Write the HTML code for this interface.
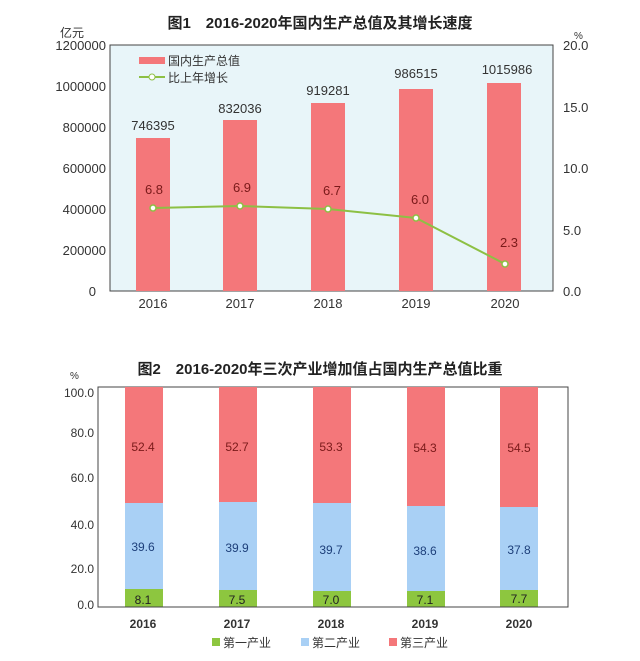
<!DOCTYPE html>
<html><head><meta charset="utf-8"><style>
body{margin:0;background:#fff;width:640px;height:656px;overflow:hidden}
svg text{font-family:"Liberation Sans","Noto Sans CJK SC",sans-serif}
.m{font-family:"Liberation Mono","Noto Sans CJK SC",monospace}
</style></head><body>
<svg width="640" height="656" viewBox="0 0 640 656" xmlns="http://www.w3.org/2000/svg">
<text x="320" y="28" text-anchor="middle" font-size="15" font-weight="bold" fill="#222">图1　2016-2020年国内生产总值及其增长速度</text>
<text x="60" y="37" font-size="12" fill="#333">亿元</text>
<text x="574" y="39" font-size="10" fill="#333">%</text>
<rect x="110" y="45" width="443" height="246" fill="#e8f5f9" stroke="#444" stroke-width="1"/>
<g font-size="13" fill="#333" text-anchor="end">
<text x="106" y="50">1200000</text><text x="106" y="91">1000000</text><text x="106" y="132">800000</text>
<text x="106" y="173">600000</text><text x="106" y="214">400000</text><text x="106" y="255">200000</text><text x="96" y="296">0</text>
</g>
<g font-size="13" fill="#333" class="m">
<text x="563" y="50">20.0</text><text x="563" y="112">15.0</text><text x="563" y="173">10.0</text><text x="563" y="235">5.0</text><text x="563" y="296">0.0</text>
</g>
<g fill="#f4777a">
<rect x="136" y="138" width="34" height="153"/>
<rect x="223" y="120" width="34" height="171"/>
<rect x="311" y="103" width="34" height="188"/>
<rect x="399" y="89" width="34" height="202"/>
<rect x="487" y="83" width="34" height="208"/>
</g>
<g font-size="13" fill="#333" text-anchor="middle">
<text x="153" y="130">746395</text><text x="240" y="113">832036</text><text x="328" y="95">919281</text>
<text x="416" y="78">986515</text><text x="507" y="74">1015986</text>
</g>
<polyline points="153,208 240,206 328,209 416,218 505,264" fill="none" stroke="#8dc044" stroke-width="2"/>
<g fill="#fff" stroke="#8dc044" stroke-width="1.5">
<circle cx="153" cy="208" r="3"/><circle cx="240" cy="206" r="3"/><circle cx="328" cy="209" r="3"/><circle cx="416" cy="218" r="3"/><circle cx="505" cy="264" r="3"/>
</g>
<g font-size="13" fill="#7a1a1a" text-anchor="middle" class="m">
<text x="154" y="194">6.8</text><text x="242" y="192">6.9</text><text x="332" y="195">6.7</text><text x="420" y="204">6.0</text><text x="509" y="247">2.3</text>
</g>
<g font-size="13" fill="#333" text-anchor="middle">
<text x="153" y="308">2016</text><text x="240" y="308">2017</text><text x="328" y="308">2018</text><text x="416" y="308">2019</text><text x="505" y="308">2020</text>
</g>
<rect x="139" y="57" width="26" height="7" fill="#f4777a"/>
<text x="168" y="65" font-size="12" fill="#333">国内生产总值</text>
<line x1="139" y1="77" x2="165" y2="77" stroke="#8dc044" stroke-width="2"/>
<circle cx="152" cy="77" r="3" fill="#fff" stroke="#8dc044"/>
<text x="168" y="82" font-size="12" fill="#333">比上年增长</text>

<text x="320" y="374" text-anchor="middle" font-size="15" font-weight="bold" fill="#222">图2　2016-2020年三次产业增加值占国内生产总值比重</text>
<text x="70" y="379" font-size="10" fill="#333">%</text>
<rect x="98" y="387" width="470" height="220" fill="#fff" stroke="#444" stroke-width="1"/>
<g font-size="12" fill="#333" text-anchor="end" class="m">
<text x="94" y="397">100.0</text><text x="94" y="437">80.0</text><text x="94" y="482">60.0</text>
<text x="94" y="529">40.0</text><text x="94" y="573">20.0</text><text x="94" y="609">0.0</text>
</g>
<g>
<rect x="125" y="387" width="38" height="116" fill="#f4777a"/><rect x="125" y="503" width="38" height="86" fill="#a9d0f5"/><rect x="125" y="589" width="38" height="18" fill="#8dc63f"/>
<rect x="219" y="387" width="38" height="115" fill="#f4777a"/><rect x="219" y="502" width="38" height="88" fill="#a9d0f5"/><rect x="219" y="590" width="38" height="17" fill="#8dc63f"/>
<rect x="313" y="387" width="38" height="116" fill="#f4777a"/><rect x="313" y="503" width="38" height="88" fill="#a9d0f5"/><rect x="313" y="591" width="38" height="16" fill="#8dc63f"/>
<rect x="407" y="387" width="38" height="119" fill="#f4777a"/><rect x="407" y="506" width="38" height="85" fill="#a9d0f5"/><rect x="407" y="591" width="38" height="16" fill="#8dc63f"/>
<rect x="500" y="387" width="38" height="120" fill="#f4777a"/><rect x="500" y="507" width="38" height="83" fill="#a9d0f5"/><rect x="500" y="590" width="38" height="17" fill="#8dc63f"/>
</g>
<line x1="98" y1="607" x2="568" y2="607" stroke="#444"/>
<g font-size="12" text-anchor="middle" class="m">
<g fill="#7a1a1a"><text x="143" y="451">52.4</text><text x="237" y="451">52.7</text><text x="331" y="451">53.3</text><text x="425" y="452">54.3</text><text x="519" y="452">54.5</text></g>
<g fill="#1d3f7a"><text x="143" y="551">39.6</text><text x="237" y="552">39.9</text><text x="331" y="554">39.7</text><text x="425" y="555">38.6</text><text x="519" y="554">37.8</text></g>
<g fill="#222"><text x="143" y="604">8.1</text><text x="237" y="604">7.5</text><text x="331" y="604">7.0</text><text x="425" y="604">7.1</text><text x="519" y="603">7.7</text></g>
</g>
<g font-size="12" fill="#333" text-anchor="middle" font-weight="bold">
<text x="143" y="628">2016</text><text x="237" y="628">2017</text><text x="331" y="628">2018</text><text x="425" y="628">2019</text><text x="519" y="628">2020</text>
</g>
<rect x="212" y="638" width="8" height="8" fill="#8dc63f"/><text x="223" y="647" font-size="12" fill="#333">第一产业</text>
<rect x="301" y="638" width="8" height="8" fill="#a9d0f5"/><text x="312" y="647" font-size="12" fill="#333">第二产业</text>
<rect x="389" y="638" width="8" height="8" fill="#f4777a"/><text x="400" y="647" font-size="12" fill="#333">第三产业</text>
</svg>
</body></html>
